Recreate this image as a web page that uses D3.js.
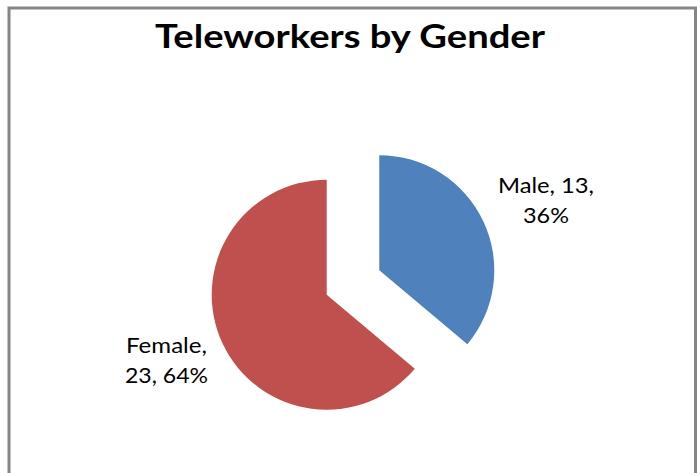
<!DOCTYPE html>
<html><head><meta charset="utf-8">
<script src="https://cdn.jsdelivr.net/npm/d3@7"></script>
<style>html,body{margin:0;padding:0;background:#fff;}</style>
</head><body>
<script>
const categories = ["Male", "Female"];
const values = [13, 23];
const percents = ["36%", "64%"];
const colors = ["#4F81BD", "#C0504D"];
const title = "Teleworkers by Gender";

const W = 700, H = 473;
const svg = d3.select("body").append("svg").attr("width", W).attr("height", H);
svg.append("rect").attr("width", W).attr("height", H).attr("fill", "#fff");
// border (bottom out of view)
svg.append("path").attr("d", "M9,480 L9,8 L695.5,8 L695.5,480")
  .attr("fill", "none").attr("stroke", "#868686").attr("stroke-width", 3);

svg.append("text").attr("x", 350).attr("y", 48)
  .attr("text-anchor", "middle").attr("font-family", "Lato").attr("font-weight", "bold")
  .attr("font-size", 32).attr("textLength", 390).attr("lengthAdjust", "spacingAndGlyphs")
  .attr("fill", "#000").text(title);

const cx = 353, cy = 282.5, R = 115, explode = 29;
const pie = d3.pie().sort(null).value(d => d);
const arcs = pie(values);
const arc = d3.arc().innerRadius(0).outerRadius(R);
const g = svg.append("g").attr("transform", `translate(${cx},${cy})`);
g.selectAll("path").data(arcs).enter().append("path")
  .attr("d", arc)
  .attr("fill", (d, i) => colors[i])
  .attr("transform", d => {
    const a = (d.startAngle + d.endAngle) / 2;
    return `translate(${Math.sin(a) * explode},${-Math.cos(a) * explode})`;
  });

const labelLines = [
  [`${categories[0]}, ${values[0]},`, percents[0]],
  [`${categories[1]},`, `${values[1]}, ${percents[1]}`]
];
const labelLens = [[96, 46], [81, 83]];
const labelPos = [[546, 193], [166.5, 353]];
labelLines.forEach((lines, i) => {
  lines.forEach((ln, j) => {
    svg.append("text").attr("text-anchor", "middle")
      .attr("font-family", "Lato").attr("font-size", 21).attr("fill", "#000")
      .attr("x", labelPos[i][0]).attr("y", labelPos[i][1] + j * 29.5)
      .attr("textLength", labelLens[i][j]).attr("lengthAdjust", "spacingAndGlyphs")
      .text(ln);
  });
});
</script>
</body></html>
